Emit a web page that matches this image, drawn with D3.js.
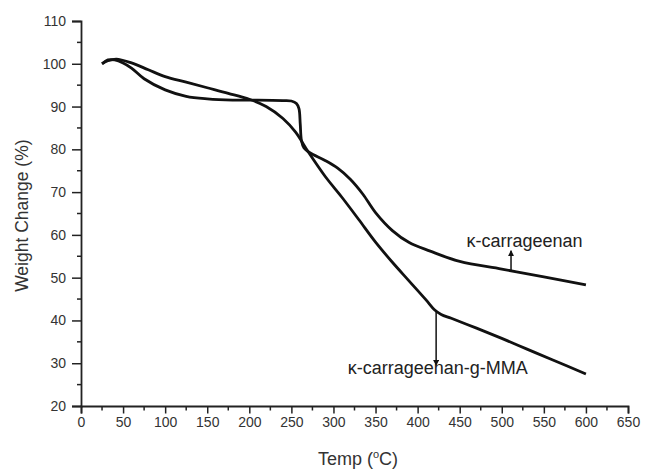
<!DOCTYPE html>
<html><head><meta charset="utf-8">
<script src="https://cdn.jsdelivr.net/npm/d3@7/dist/d3.min.js"></script>
<style>body{margin:0;background:#fff;} text{font-family:"Liberation Sans",Arial,sans-serif;}</style>
</head><body><svg id="c" width="650" height="470"></svg>
<script>
const kcTemp = [25, 32, 40, 50, 60, 75, 100, 125, 150, 180, 210, 240, 250, 256, 259, 260.5, 262, 265, 272, 290, 305, 320, 335, 350, 370, 390, 415, 450, 500, 550, 600];
const kcWeight = [100, 100.9, 100.9, 100.2, 99, 96.5, 93.9, 92.4, 91.8, 91.5, 91.5, 91.4, 91.3, 90.7, 89.5, 86, 82, 80.3, 79.2, 77.4, 75.6, 73, 69.5, 65.2, 61, 58.2, 56.2, 53.8, 52.0, 50.2, 48.3];
const gTemp = [25, 32, 42, 60, 80, 100, 125, 150, 175, 200, 220, 240, 255, 270, 290, 310, 330, 350, 370, 390, 410, 420, 428, 440, 470, 500, 530, 560, 600];
const gWeight = [100, 100.7, 101.1, 100.2, 98.6, 97, 95.7, 94.4, 93.1, 91.7, 90, 87.2, 84, 79.4, 73.7, 68.8, 63.6, 58.3, 53.6, 49.2, 44.8, 42.5, 41.4, 40.5, 38.2, 35.8, 33.3, 30.8, 27.5];
const xTicks = [0,50,100,150,200,250,300,350,400,450,500,550,600,650];
const yTicks = [20,30,40,50,60,70,80,90,100,110];
const labels = ["κ-carrageenan", "κ-carrageenan-g-MMA"];

const svg = d3.select("#c");
const x = d3.scaleLinear().domain([0,650]).range([81,628]);
const y = d3.scaleLinear().domain([20,110]).range([406,21]);
const ink = "#222";

// minor ticks
const xMinor = d3.range(25,650,50);
const yMinor = d3.range(25,110,10);
svg.append("g").selectAll("line").data(xMinor).join("line")
  .attr("x1",d=>x(d)).attr("x2",d=>x(d)).attr("y1",y(20)).attr("y2",y(20)+4.5)
  .attr("stroke",ink).attr("stroke-width",1.5);
svg.append("g").selectAll("line").data(yMinor).join("line")
  .attr("y1",d=>y(d)).attr("y2",d=>y(d)).attr("x1",x(0)).attr("x2",x(0)-4)
  .attr("stroke",ink).attr("stroke-width",1.5);

const xAxis = svg.append("g").attr("transform",`translate(0,${y(20)})`)
  .call(d3.axisBottom(x).tickValues(xTicks).tickSize(7.5).tickPadding(4));
const yAxis = svg.append("g").attr("transform",`translate(${x(0)},0)`)
  .call(d3.axisLeft(y).tickValues(yTicks).tickSize(9).tickPadding(6));
[xAxis,yAxis].forEach(a=>{
  a.select(".domain").attr("stroke",ink).attr("stroke-width",1.8);
  a.selectAll(".tick line").attr("stroke",ink).attr("stroke-width",1.5);
  a.selectAll(".tick text").attr("fill","#333").style("font-size","14px");
});

const line = d3.line().x(d=>x(d[0])).y(d=>y(d[1])).curve(d3.curveCatmullRom.alpha(0.5));
const kc = kcTemp.map((t,i)=>[t,kcWeight[i]]);
const gm = gTemp.map((t,i)=>[t,gWeight[i]]);
[kc,gm].forEach(s=>svg.append("path").datum(s).attr("d",line)
  .attr("fill","none").attr("stroke","#111").attr("stroke-width",2.8).attr("stroke-linejoin","round"));

// arrows
svg.append("defs").append("marker").attr("id","ah").attr("viewBox","0 0 10 10")
  .attr("refX",9).attr("refY",5).attr("markerWidth",4).attr("markerHeight",4).attr("orient","auto")
  .append("path").attr("d","M0,0L10,5L0,10Z").attr("fill","#111");
svg.append("line").attr("x1",x(511)).attr("x2",x(511)).attr("y1",y(51.6)).attr("y2",y(56.3))
  .attr("stroke","#111").attr("stroke-width",1.5).attr("marker-end","url(#ah)");
svg.append("line").attr("x1",x(422)).attr("x2",x(422)).attr("y1",y(42.2)).attr("y2",y(29.5))
  .attr("stroke","#111").attr("stroke-width",1.5).attr("marker-end","url(#ah)");

svg.append("text").attr("x",x(527)).attr("y",247).attr("text-anchor","middle")
  .style("font-size","18px").attr("fill","#222").text(labels[0]);
svg.append("text").attr("x",x(424)).attr("y",374).attr("text-anchor","middle")
  .style("font-size","18px").attr("fill","#222").text(labels[1]);

// axis titles
svg.append("text").attr("transform",`translate(28,${y(64.5)}) rotate(-90)`).attr("text-anchor","middle")
  .style("font-size","17.5px").attr("fill","#333").text("Weight Change (%)");
const xt = svg.append("text").attr("x",358).attr("y",465).attr("text-anchor","middle")
  .style("font-size","18px").attr("fill","#333");
xt.append("tspan").text("Temp (");
xt.append("tspan").attr("dy",-7).style("font-size","11px").text("o");
xt.append("tspan").attr("dy",7).text("C)");
</script></body></html>
